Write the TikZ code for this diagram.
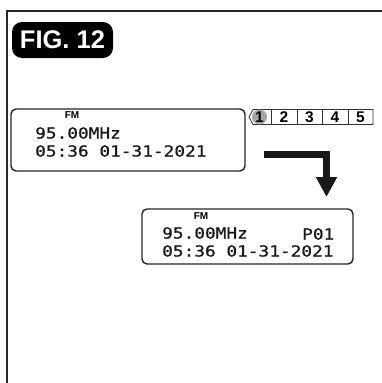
\documentclass[tikz,border=0pt]{standalone}
\usepackage{fontspec}
\setmainfont{Liberation Sans}
\newfontfamily\lcd[FakeStretch=1.17,FakeBold=0.7]{DejaVu Sans Mono}
\usetikzlibrary{arrows.meta}
\begin{document}
\begin{tikzpicture}[x=1pt,y=-1pt,
  frameline/.style={line width=1.6pt,draw=black!85},
  lcdbox/.style={draw=black!85,line width=1.4pt,rounded corners=5pt},
  lcdtext/.style={inner sep=0pt,anchor=west,font=\lcd\fontsize{15.2}{15}\selectfont,text=black!90},
  fmtext/.style={inner sep=0pt,anchor=center,font=\bfseries\fontsize{10}{10}\selectfont},
  tabnum/.style={inner sep=0pt,anchor=center,font=\bfseries\fontsize{15.5}{15}\selectfont},
  tabline/.style={draw=black!80,line width=0.8pt},
  bigarrow/.style={line width=7pt,draw=black!90,-{Triangle[length=20pt,width=20pt]}}]
\useasboundingbox (0,0) rectangle (382,383);
% frame
\draw[frameline] (382,11) -- (7,11) -- (7,383);
% badge
\node[fill=black,rounded corners=10pt,minimum width=101pt,minimum height=36pt,inner sep=0pt,text=white,font=\bfseries\fontsize{25.5}{25}\selectfont] (badge) at (62.5,40) {FIG. 12};
% display 1
\draw[lcdbox] (11,109) rectangle (245,171);
\node[fmtext] (fm1) at (72,115.5) {FM};
\node[lcdtext] (f1) at (35,133) {95.00MHz};
\node[lcdtext] (t1) at (35,151) {05:36 01-31-2021};
% tabs
\draw[tabline,fill=white] (253,109.5) -- (373,109.5) -- (373,124.5) -- (253,124.5) -- (249,117) -- cycle;
\fill[black!35] (259.5,117) circle (7.5pt);
\foreach \xx in {271,297,322,348} \draw[tabline] (\xx,109.5) -- (\xx,124.5);
\node[tabnum] (n1) at (259.5,117.5) {1};
\node[tabnum] (n2) at (284,117.5) {2};
\node[tabnum] (n3) at (309.5,117.5) {3};
\node[tabnum] (n4) at (335,117.5) {4};
\node[tabnum] (n5) at (360.5,117.5) {5};
% arrow
\coordinate (as) at (264,154.5);
\coordinate (ac) at (326.5,154.5);
\coordinate (ae) at (326.5,197);
\draw[bigarrow] (as) -- (ac) -- (ae);
% display 2
\draw[lcdbox] (142,209) rectangle (353,264);
\node[fmtext] (fm2) at (201,216) {FM};
\node[lcdtext] (f2) at (162,233) {95.00MHz};
\node[lcdtext] (p2) at (302,234) {P01};
\node[lcdtext] (t2) at (162,251) {05:36 01-31-2021};
\end{tikzpicture}
\end{document}
